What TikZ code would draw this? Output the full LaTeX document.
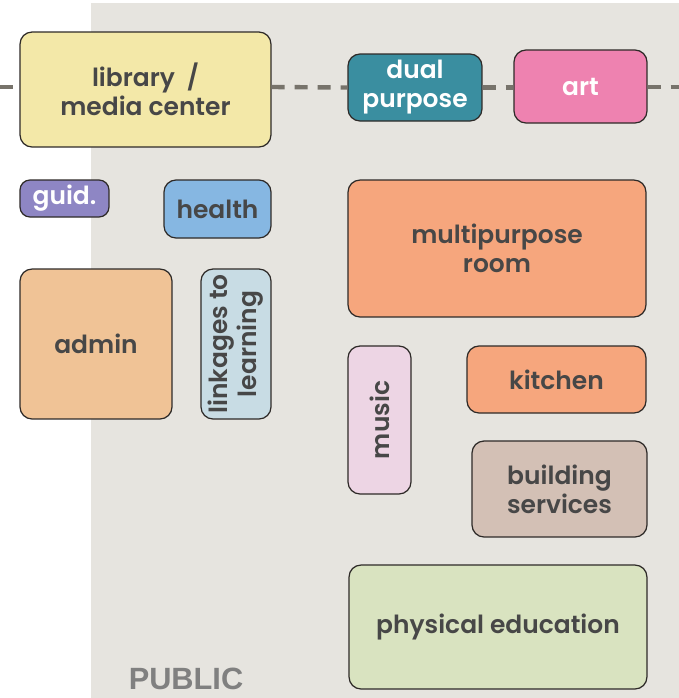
\documentclass[tikz,border=0pt]{standalone}
\usepackage{fontspec}
\usepackage{xcolor}
\usepackage{tikz}
\usetikzlibrary{shapes,arrows}
\newfontfamily\roomfont{Poppins SemiBold}
\newfontfamily\zonefont{Liberation Sans}
\definecolor{zonegrey}{HTML}{E6E4DF}
\definecolor{roomtext}{HTML}{474747}
\definecolor{roomline}{HTML}{2E2A28}
\definecolor{dashgrey}{HTML}{77736B}
\definecolor{libyellow}{HTML}{F3E8A8}
\definecolor{dualteal}{HTML}{3A8EA0}
\definecolor{artpink}{HTML}{EE82B0}
\definecolor{guidpurple}{HTML}{8E86C4}
\definecolor{healthblue}{HTML}{86B7E2}
\definecolor{multiorange}{HTML}{F6A67D}
\definecolor{adminorange}{HTML}{F0C396}
\definecolor{linkblue}{HTML}{C8DCE4}
\definecolor{musicpink}{HTML}{EDD5E4}
\definecolor{servbrown}{HTML}{D3C0B5}
\definecolor{pegreen}{HTML}{D9E3C0}
\tikzstyle{room} = [rectangle, draw=roomline, line width=0.7pt, rounded corners=0.24cm, text=roomtext, align=center, font=\roomfont\fontsize{14.2}{16.5}\selectfont, inner sep=0pt]
\tikzstyle{whiteroom} = [room, text=white]
\tikzstyle{line} = [draw=dashgrey, line width=2.5pt, dash pattern=on 0.26cm off 0.2cm]

\begin{document}
\begin{tikzpicture}[x=0.02cm, y=-0.02cm]
        \useasboundingbox (0,0) rectangle (679,698);
        \fill [zonegrey] (91,3) rectangle (679,698);
        % Place nodes
        \node [room, fill=libyellow, minimum width=5.02cm, minimum height=2.30cm] (library) at (145.5,89.5) {library\ \ /\\media center};
        \node [whiteroom, fill=dualteal, minimum width=2.68cm, minimum height=1.34cm] (dual) at (415,87.5) {dual\\purpose};
        \node [whiteroom, fill=artpink, minimum width=2.66cm, minimum height=1.46cm] (art) at (580.5,86.5) {art};
        \node [whiteroom, fill=guidpurple, rounded corners=0.2cm, minimum width=1.78cm, minimum height=0.74cm] (guid) at (64.5,198.5) {guid.};
        \node [room, fill=healthblue, minimum width=2.14cm, minimum height=1.16cm] (health) at (217.5,209) {health};
        \node [room, fill=multiorange, minimum width=5.96cm, minimum height=2.74cm] (multi) at (497,248.5) {multipurpose\\room};
        \node [room, fill=adminorange, minimum width=3.04cm, minimum height=3.00cm] (admin) at (96,344) {admin};
        \node [room, fill=linkblue, rotate=90, minimum width=3.00cm, minimum height=1.40cm] (link) at (236,344) {linkages to\\learning};
        \node [room, fill=musicpink, rotate=90, minimum width=2.96cm, minimum height=1.26cm] (music) at (379.5,420) {music};
        \node [room, fill=multiorange, minimum width=3.58cm, minimum height=1.34cm] (kitchen) at (556.5,379.5) {kitchen};
        \node [room, fill=servbrown, minimum width=3.50cm, minimum height=1.92cm] (services) at (559.5,489) {building\\services};
        \node [room, fill=pegreen, minimum width=5.96cm, minimum height=2.48cm] (pe) at (498,627) {physical education};
        \node [text=gray, font=\zonefont\bfseries\fontsize{17.5}{18}\selectfont] (public) at (186,679) {PUBLIC};
        \coordinate (westend) at (0,87);
        \coordinate (eastend) at (679,87);
        % Draw edges
        \path [line] (westend) -- (library.west |- westend);
        \path [line] (library.east |- westend) -- (dual.west);
        \path [line] (dual.east) -- (art.west |- dual.east);
        \path [line] (art.east |- eastend) -- (eastend);
\end{tikzpicture}
\end{document}
